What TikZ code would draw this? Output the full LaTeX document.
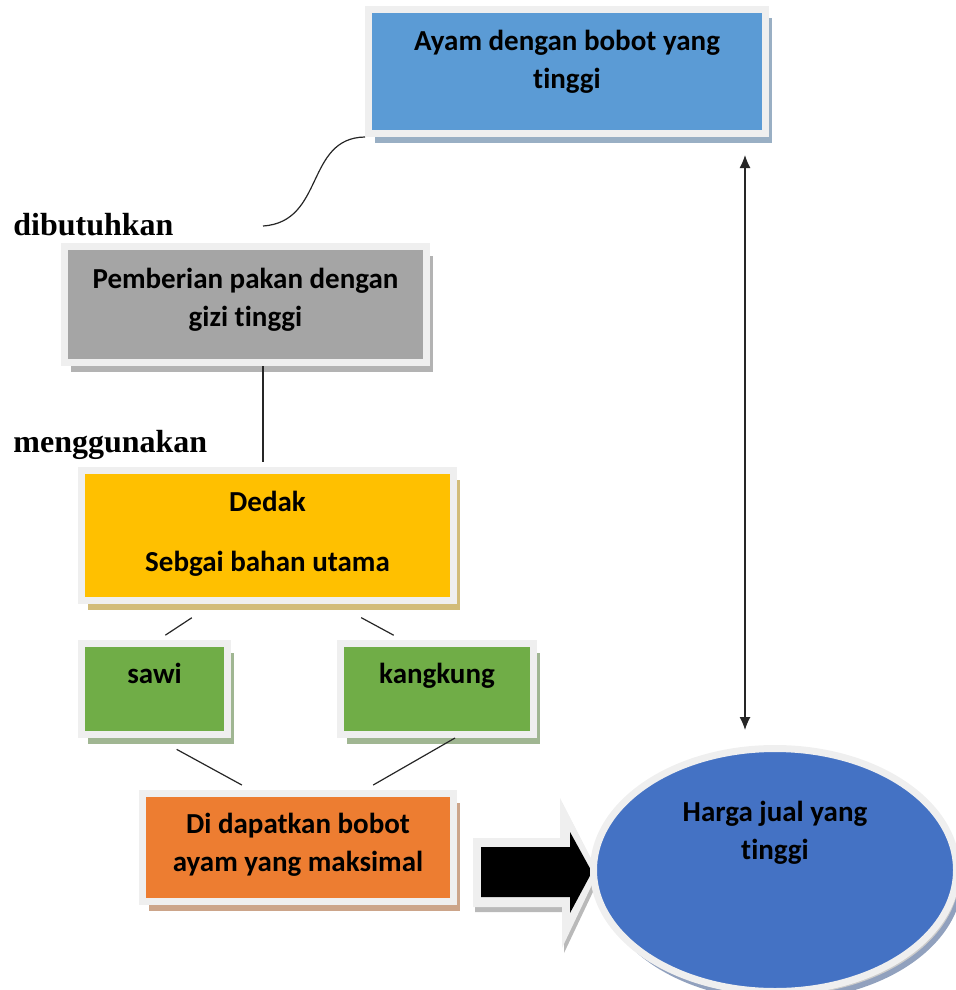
\documentclass[tikz,border=0pt]{standalone}
\usepackage{fontspec}
\usetikzlibrary{shadows,arrows.meta,shapes.geometric}
\newfontfamily\boxfont{Carlito}[Ligatures=NoCommon]
\newfontfamily\wordfont{Liberation Serif}
\definecolor{frameGray}{HTML}{EFEFEF}
\definecolor{ayamBlue}{HTML}{5B9BD5}
\definecolor{pakanGray}{HTML}{A5A5A5}
\definecolor{dedakGold}{HTML}{FFC000}
\definecolor{sayurGreen}{HTML}{70AD47}
\definecolor{hasilOrange}{HTML}{ED7D31}
\definecolor{hargaBlue}{HTML}{4472C4}

\begin{document}
\begin{tikzpicture}[x=0.5pt, y=-0.5pt, box/.style = {rectangle, draw=frameGray, line width=3.5pt, fill=#1, drop shadow={shadow xshift=3pt, shadow yshift=-4.5pt, fill=#1!50!gray!70!white, opacity=1}}, txt/.style = {anchor=base, align=center, font=\boxfont\bfseries\fontsize{14.5}{19}\selectfont}, word/.style = {anchor=base west, inner sep=0pt, font=\wordfont\bfseries\fontsize{16}{19}\selectfont}, link/.style = {draw=black!85, line width=0.6pt}]
\useasboundingbox (0,0) rectangle (955,990);

\node[box=ayamBlue, minimum width=198.5pt, minimum height=62pt] (ayam) at (567,71.5) {};
\node[box=pakanGray, minimum width=181pt, minimum height=58pt] (pakan) at (245.5,304.5) {};
\node[box=dedakGold, minimum width=186pt, minimum height=65pt] (dedak) at (267.5,535.5) {};
\node[box=sayurGreen, minimum width=73pt, minimum height=45.5pt] (sawi) at (154.5,689) {};
\node[box=sayurGreen, minimum width=96.5pt, minimum height=45.5pt] (kangkung) at (437,689) {};
\node[box=hasilOrange, minimum width=155.5pt, minimum height=54pt] (hasil) at (298,847.5) {};

% block arrow
\fill[frameGray, drop shadow={shadow xshift=1pt, shadow yshift=-2.5pt, fill=gray!55, opacity=1}] (473,838) -- (560,838) -- (560,798) -- (598,872) -- (562,948) -- (562,907) -- (473,907) -- cycle;
\fill[black] (481,847) -- (570,847) -- (570,832) -- (592,872) -- (570,913) -- (570,897) -- (481,897) -- cycle;

\node[box=hargaBlue, ellipse, minimum width=181.5pt, minimum height=121.5pt, drop shadow={shadow xshift=1.5pt, shadow yshift=-2pt, fill=gray!40, opacity=1}] (harga) at (775,870) {};

\node[txt] (ayamTxt) at (567,89) {Ayam dengan bobot yang\\tinggi};
\node[txt] (pakanTxt) at (245.5,326) {Pemberian pakan dengan\\gizi tinggi};
\node[txt] (dedakTxt) at (267.5,571) {Dedak\\[11pt]Sebgai bahan utama};
\node[txt] (sawiTxt) at (154.5,683) {sawi};
\node[txt] (kangkungTxt) at (437,683) {kangkung};
\node[txt] (hasilTxt) at (298,871) {Di dapatkan bobot\\ayam yang maksimal};
\node[txt] (hargaTxt) at (775,859) {Harga jual yang\\tinggi};

\node[word] (dibutuhkan) at (13,235) {dibutuhkan};
\node[word] (menggunakan) at (13,452) {menggunakan};
\coordinate (curveStart) at (263,226);

\draw[link] (curveStart) .. controls (325,222) and (305,138) .. (ayam.south west);
\draw[link, shorten >=2.75pt] ([xshift=8.75pt]pakan.south) -- ([xshift=8.75pt]pakan.south |- dedak.north);
\draw[link, shorten <=12.5pt, shorten >=4.4pt] ([xshift=-27.4pt]dedak.south) -- ([xshift=1.75pt]sawi.north);
\draw[link, shorten <=14.3pt, shorten >=5pt] ([xshift=34.25pt]dedak.south) -- ([xshift=-17.25pt]kangkung.north);
\draw[link, shorten <=11.8pt, shorten >=5.2pt] ([xshift=0.7pt]sawi.south) -- ([xshift=-23.5pt]hasil.north);
\draw[link, shorten >=5pt] ([xshift=9pt]kangkung.south) -- ([xshift=33.25pt]hasil.north);
\draw[link, {Latex[length=6.5pt,width=5.5pt]}-{Latex[length=6.5pt,width=5.5pt]}, shorten <=9pt, shorten >=7.5pt] ([xshift=89pt]ayam.south) -- ([xshift=-15pt]harga.north);
\end{tikzpicture}
\end{document}
